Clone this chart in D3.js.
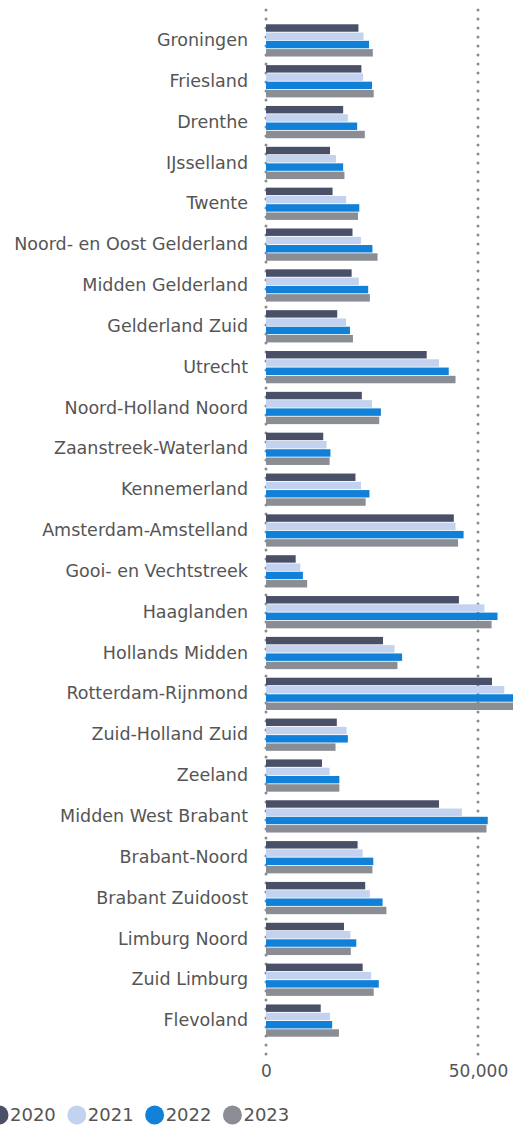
<!DOCTYPE html>
<html>
<head>
<meta charset="utf-8">
<script src="https://cdn.jsdelivr.net/npm/d3@7"></script>
<style>
  html, body { margin: 0; padding: 0; background: #fff; }
  svg { display: block; font-family: "DejaVu Sans", Verdana, sans-serif; }
</style>
</head>
<body>
<svg id="chart" width="513" height="1126"></svg>
<script>
// Regions (rows, top to bottom)
const regions = [
  "Groningen", "Friesland", "Drenthe", "IJsselland", "Twente",
  "Noord- en Oost Gelderland", "Midden Gelderland", "Gelderland Zuid", "Utrecht",
  "Noord-Holland Noord", "Zaanstreek-Waterland", "Kennemerland", "Amsterdam-Amstelland",
  "Gooi- en Vechtstreek", "Haaglanden", "Hollands Midden", "Rotterdam-Rijnmond",
  "Zuid-Holland Zuid", "Zeeland", "Midden West Brabant", "Brabant-Noord",
  "Brabant Zuidoost", "Limburg Noord", "Zuid Limburg", "Flevoland"
];

const years = ["2020", "2021", "2022", "2023"];

// Values per year, in region order
const values2020 = [21800, 22500, 18200, 15100, 15700, 20400, 20200, 16800, 37900,
  22600, 13500, 21100, 44300, 7000, 45500, 27600, 53300, 16700, 13200, 40800,
  21600, 23400, 18400, 22800, 12900];
const values2021 = [23000, 22900, 19300, 16500, 18900, 22400, 21900, 18900, 40800,
  25000, 14300, 22400, 44700, 8100, 51500, 30300, 56200, 19000, 15000, 46200,
  22800, 24500, 19900, 24800, 15100];
const values2022 = [24300, 25000, 21500, 18200, 22000, 25100, 24100, 19800, 43100,
  27100, 15200, 24400, 46600, 8700, 54600, 32100, 59800, 19300, 17300, 52300,
  25300, 27500, 21300, 26600, 15600];
const values2023 = [25200, 25400, 23300, 18500, 21700, 26300, 24500, 20500, 44700,
  26700, 15000, 23500, 45300, 9700, 53200, 31000, 58900, 16400, 17300, 52000,
  25100, 28400, 20000, 25400, 17200];

const xTicks = [0, 50000];
const colors = ["#4a5068", "#c3d3ef", "#1180d8", "#8a8d94"];

const seriesByYear = [values2020, values2021, values2022, values2023];
const rows = regions.map((r, i) => ({
  region: r,
  vals: years.map((y, k) => ({ year: y, value: seriesByYear[k][i] }))
}));

const svg = d3.select("#chart");

const x = d3.scaleLinear().domain([0, 50000]).range([266, 478]);
const y = d3.scaleBand().domain(regions).range([20, 1041])
  .paddingInner(0.21).paddingOuter(0.105);
const yInner = d3.scaleBand().domain(years).range([0, y.bandwidth()]).paddingInner(0.1);
const color = d3.scaleOrdinal().domain(years).range(colors);

// Dotted vertical gridlines
svg.append("g").selectAll("line").data(xTicks).join("line")
  .attr("x1", d => x(d)).attr("x2", d => x(d))
  .attr("y1", 10).attr("y2", 1057)
  .attr("stroke", "#8c8c8c")
  .attr("stroke-width", 3)
  .attr("stroke-linecap", "round")
  .attr("stroke-dasharray", "0 9");

// Bars
const groups = svg.append("g").selectAll("g").data(rows).join("g")
  .attr("transform", d => `translate(0,${y(d.region)})`);

groups.selectAll("rect").data(d => d.vals).join("rect")
  .attr("x", x(0))
  .attr("y", d => yInner(d.year))
  .attr("width", d => x(d.value) - x(0))
  .attr("height", yInner.bandwidth())
  .attr("fill", d => color(d.year));

// Category axis
const yAxis = svg.append("g")
  .attr("transform", "translate(255,0)")
  .call(d3.axisLeft(y).tickSize(0).tickPadding(7));
yAxis.select(".domain").remove();
yAxis.selectAll("text")
  .attr("fill", "#555")
  .style("font-size", "17.5px")
  .style("font-family", "'DejaVu Sans', Verdana, sans-serif");

// Value axis
const xAxis = svg.append("g")
  .attr("transform", "translate(0,1058)")
  .call(d3.axisBottom(x).tickValues(xTicks).tickSize(0).tickPadding(7)
    .tickFormat(d3.format(",")));
xAxis.select(".domain").remove();
xAxis.selectAll("text")
  .attr("fill", "#555")
  .style("font-size", "17px")
  .style("font-family", "'DejaVu Sans', Verdana, sans-serif");

// Legend
const legend = svg.append("g").attr("transform", "translate(-1,1115)");
let lx = 0;
years.forEach((yr, k) => {
  const item = legend.append("g").attr("transform", `translate(${lx},0)`);
  item.append("circle").attr("cx", 0).attr("cy", 0).attr("r", 9.5).attr("fill", color(yr));
  const t = item.append("text")
    .attr("x", 11).attr("y", 0).attr("dy", "0.35em")
    .attr("fill", "#555")
    .style("font-size", "18px")
    .text(yr);
  const w = t.node().getComputedTextLength();
  lx += 11 + w + 21;
});
</script>
</body>
</html>
